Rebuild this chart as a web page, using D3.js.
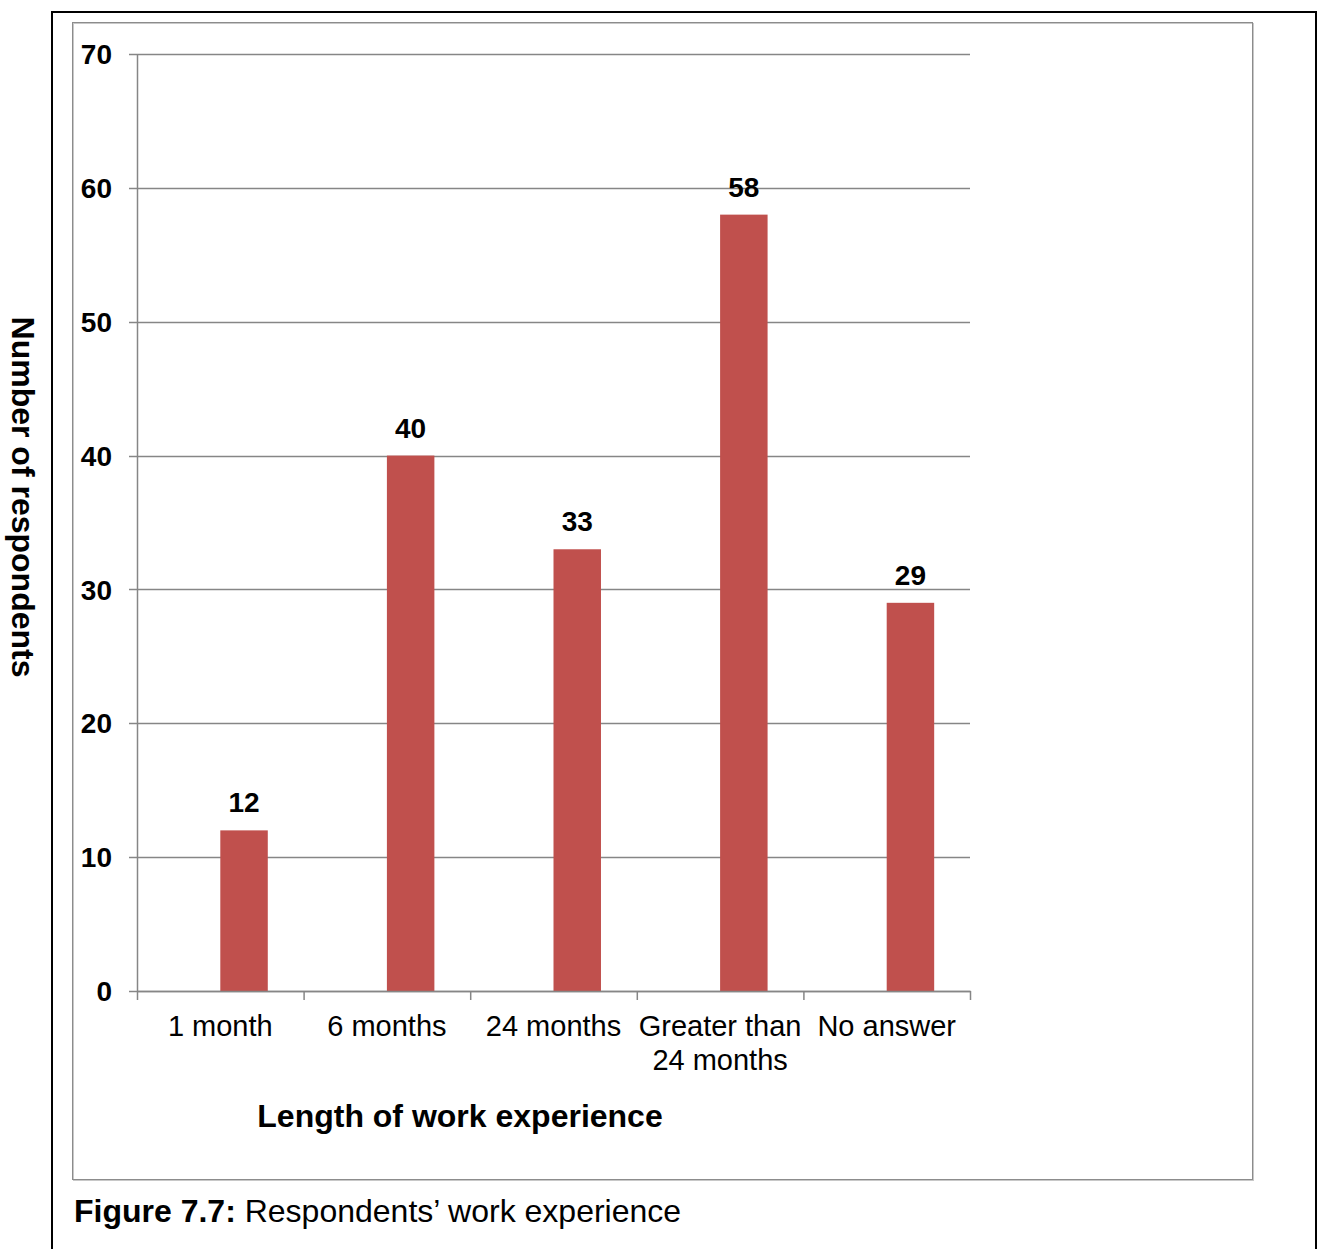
<!DOCTYPE html>
<html>
<head>
<meta charset="utf-8">
<script src="https://cdn.jsdelivr.net/npm/d3@7"></script>
<style>
  html, body { margin: 0; padding: 0; background: #fff; }
  svg { display: block; font-family: "Liberation Sans", Arial, sans-serif; }
</style>
</head>
<body>
<svg id="chart" width="1320" height="1249"></svg>
<script>
// Respondents by length of work experience
const categories = [["1 month"], ["6 months"], ["24 months"], ["Greater than", "24 months"], ["No answer"]];
const counts = [12, 40, 33, 58, 29];
const yTicks = [0, 10, 20, 30, 40, 50, 60, 70];

const svg = d3.select("#chart");

// Outer figure frame (bottom edge runs off the page)
svg.append("path")
  .attr("d", "M52,1252 V12 H1316 V1252")
  .attr("fill", "none").attr("stroke", "#000").attr("stroke-width", 2);

// Chart area frame with a soft shadow
svg.append("rect").attr("x", 73.5).attr("y", 23.5).attr("width", 1180).attr("height", 1157)
  .attr("fill", "none").attr("stroke", "#c8c8c8").attr("stroke-width", 1);
svg.append("rect").attr("x", 72.5).attr("y", 22.5).attr("width", 1180).attr("height", 1157)
  .attr("fill", "none").attr("stroke", "#8c8c8c").attr("stroke-width", 1);

const plot = { left: 137, right: 970, top: 54, bottom: 991 };

// One band per category; the bar sits in the right half of its band
const band = d3.scaleBand()
  .domain(d3.range(categories.length))
  .range([plot.left, plot.right]);
const barWidth = band.bandwidth() * 0.285;
const barX = i => band(i) + band.bandwidth() / 2;

const y = d3.scaleLinear().domain([0, 70]).range([plot.bottom, plot.top]);

// Horizontal gridlines with short left ticks
svg.append("g").selectAll("line").data(yTicks).join("line")
  .attr("x1", plot.left - 8).attr("x2", plot.right)
  .attr("y1", d => Math.round(y(d)) + 0.5).attr("y2", d => Math.round(y(d)) + 0.5)
  .attr("stroke", "#868686").attr("stroke-width", 1.3);

// Y axis line
svg.append("line")
  .attr("x1", plot.left + 0.5).attr("x2", plot.left + 0.5)
  .attr("y1", plot.top).attr("y2", plot.bottom + 1)
  .attr("stroke", "#868686").attr("stroke-width", 1.5);

// Y tick labels
svg.append("g").selectAll("text").data(yTicks).join("text")
  .attr("x", 112).attr("y", d => y(d))
  .attr("dy", "0.36em")
  .attr("text-anchor", "end")
  .attr("font-size", 28).attr("font-weight", "bold").attr("fill", "#000")
  .text(d => d);

// Bars
svg.append("g").selectAll("rect").data(counts).join("rect")
  .attr("x", (d, i) => barX(i))
  .attr("width", barWidth)
  .attr("y", d => y(d))
  .attr("height", d => y(0) - y(d))
  .attr("fill", "#C0504D");

// Value labels
svg.append("g").selectAll("text").data(counts).join("text")
  .attr("x", (d, i) => barX(i) + barWidth / 2)
  .attr("y", d => y(d) - 18)
  .attr("text-anchor", "middle")
  .attr("font-size", 28).attr("font-weight", "bold").attr("fill", "#000")
  .text(d => d);

// X axis baseline and category separator ticks
svg.append("line")
  .attr("x1", plot.left).attr("x2", plot.right + 1)
  .attr("y1", plot.bottom + 0.5).attr("y2", plot.bottom + 0.5)
  .attr("stroke", "#868686").attr("stroke-width", 1.5);
const sepTicks = d3.range(categories.length + 1).map(i => i < categories.length ? band(i) : plot.right);
svg.append("g").selectAll("line").data(sepTicks).join("line")
  .attr("x1", d => d + 0.5).attr("x2", d => d + 0.5)
  .attr("y1", plot.bottom).attr("y2", plot.bottom + 9)
  .attr("stroke", "#868686").attr("stroke-width", 1.5);

// Category labels
const catG = svg.append("g");
categories.forEach((lines, i) => {
  const cx = band(i) + band.bandwidth() / 2;
  const t = catG.append("text")
    .attr("x", cx)
    .attr("y", 1036)
    .attr("text-anchor", "middle")
    .attr("font-size", 29).attr("fill", "#000");
  lines.forEach((ln, j) => {
    t.append("tspan").attr("x", cx).attr("dy", j === 0 ? 0 : 34).text(ln);
  });
});

// Axis titles
svg.append("text")
  .attr("x", 460).attr("y", 1127)
  .attr("text-anchor", "middle")
  .attr("font-size", 32).attr("font-weight", "bold").attr("fill", "#000")
  .text("Length of work experience");

svg.append("text")
  .attr("transform", "translate(12,497) rotate(90)")
  .attr("text-anchor", "middle")
  .attr("font-size", 32).attr("font-weight", "bold").attr("fill", "#000")
  .text("Number of respondents");

// Figure caption
const cap = svg.append("text")
  .attr("x", 74).attr("y", 1222)
  .attr("font-size", 32).attr("fill", "#000");
cap.append("tspan").attr("font-weight", "bold").text("Figure 7.7:");
cap.append("tspan").text(" Respondents\u2019 work experience");
</script>
</body>
</html>
